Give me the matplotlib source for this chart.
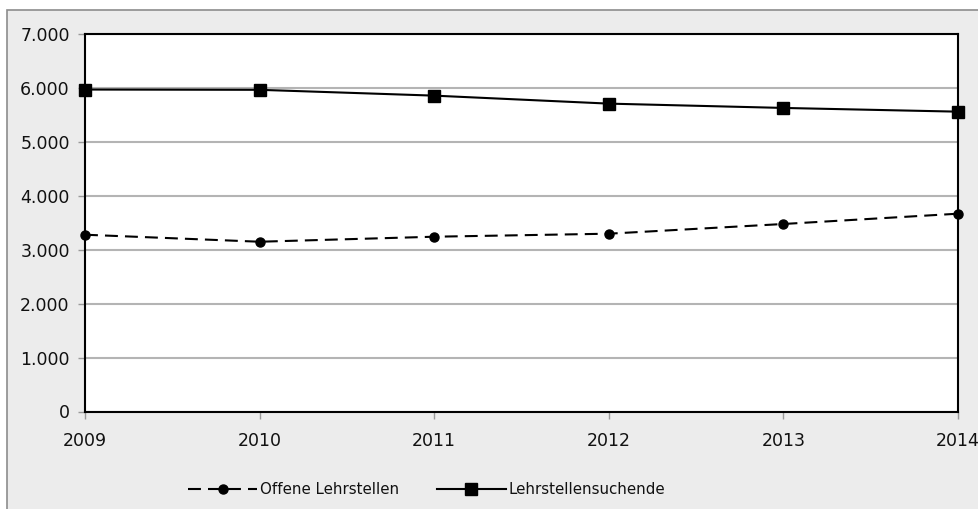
import matplotlib
matplotlib.use("Agg")
import matplotlib.pyplot as plt
from matplotlib.patches import Rectangle
from matplotlib.ticker import FuncFormatter

years = [2009, 2010, 2011, 2012, 2013, 2014]
offene = [3278, 3148, 3241, 3297, 3477, 3668]
suchende = [5970, 5965, 5857, 5709, 5629, 5560]
yticks = [0, 1000, 2000, 3000, 4000, 5000, 6000, 7000]
labels = ["Offene Lehrstellen", "Lehrstellensuchende"]

plt.rcParams['font.family'] = ['DejaVu Sans']
W, H = 979, 509
fig = plt.figure(figsize=(W / 100, H / 100), dpi=100)
fig.patch.set_facecolor("white")
bg = Rectangle((7 / W, -0.01), 1, 1.01 - 10 / H, transform=fig.transFigure,
               facecolor="#ececec", edgecolor="#8c8c8c", linewidth=1.2, zorder=-5)
fig.patches.append(bg)

ax = fig.add_axes([85 / W, 1 - 411.5 / H, (958 - 85) / W, (411.5 - 34) / H])
ax.set_zorder(2)
ax.set_facecolor("white")
ax.set_xlim(2009, 2014)
ax.set_ylim(0, 7000)
ax.set_yticks(yticks)
ax.set_xticks(years)
ax.yaxis.set_major_formatter(FuncFormatter(lambda v, p: f"{int(v):,}".replace(",", ".")))
ax.grid(axis="y", color="#b4b4b4", linewidth=1.5)
ax.set_axisbelow(True)
for s in ax.spines.values():
    s.set_color("black")
    s.set_linewidth(1.5)
ax.tick_params(axis="both", direction="out", length=5, width=1, color="#999999",
               labelsize=12.5, labelcolor="#111111")
ax.tick_params(axis="y", pad=6)
ax.tick_params(axis="x", pad=10)

l1, = ax.plot(years, offene, color="black", linewidth=1.5, dashes=(6.2, 3.4),
              marker="o", markersize=6.5, clip_on=False, zorder=5)
l2, = ax.plot(years, suchende, color="black", linewidth=1.5,
              marker="s", markersize=8, clip_on=False, zorder=5)

leg = fig.legend([l1, l2], labels, loc="center", bbox_to_anchor=(427 / W, 1 - 490 / H),
                 ncol=2, frameon=False, handlelength=4.6, handletextpad=0.2,
                 columnspacing=2.5, prop={'size': 10.8})
for t in leg.get_texts():
    t.set_color("#111111")
leg.set_zorder(3)

fig.savefig("out.png", dpi=100, facecolor=fig.get_facecolor())
